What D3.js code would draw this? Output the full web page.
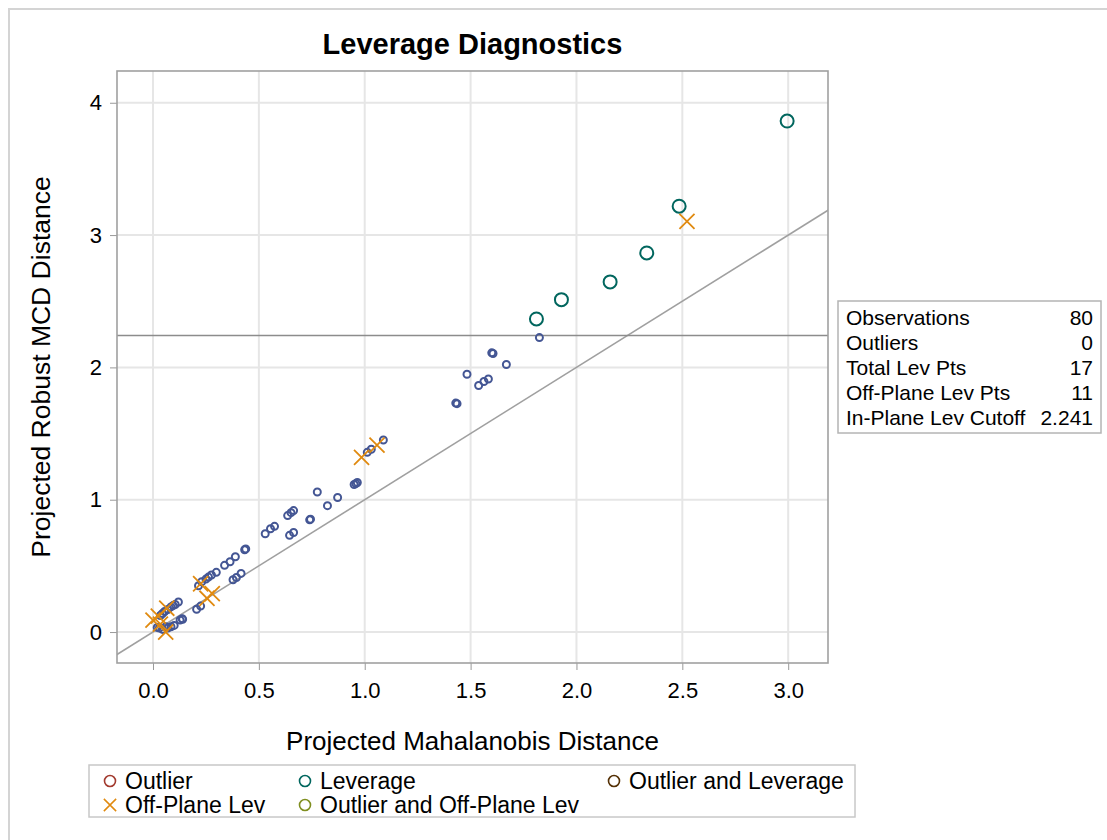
<!DOCTYPE html>
<html>
<head>
<meta charset="utf-8">
<script src="https://cdn.jsdelivr.net/npm/d3@7"></script>
<style>
  html, body { margin: 0; padding: 0; background: #fff; }
  svg text { font-family: "Liberation Sans", Arial, sans-serif; fill: #000; }
</style>
</head>
<body>
<svg id="chart" width="1107" height="840"></svg>
<script>
// Leverage Diagnostics

// Observations normales (cercles bleus)
const normalX = [1.825, 1.606, 1.600, 1.669, 1.483, 1.584, 1.563, 1.538, 1.430, 1.436,
  1.088, 1.031, 1.012, 0.950, 0.958, 0.965, 0.776, 0.872, 0.824, 0.740,
  0.744, 0.664, 0.652, 0.636, 0.574, 0.555, 0.530, 0.664, 0.645, 0.433,
  0.438, 0.389, 0.364, 0.338, 0.299, 0.276, 0.262, 0.250, 0.230, 0.215,
  0.416, 0.394, 0.378, 0.225, 0.206, 0.140, 0.138, 0.128, 0.120, 0.105,
  0.095, 0.085, 0.070, 0.055, 0.045, 0.035, 0.030, 0.045, 0.060, 0.100,
  0.085, 0.020, 0.070];
const normalY = [2.225, 2.105, 2.110, 2.022, 1.948, 1.912, 1.893, 1.863, 1.730, 1.726,
  1.451, 1.381, 1.358, 1.115, 1.122, 1.130, 1.058, 1.017, 0.955, 0.848,
  0.853, 0.918, 0.902, 0.880, 0.799, 0.781, 0.743, 0.752, 0.731, 0.622,
  0.628, 0.569, 0.531, 0.504, 0.451, 0.431, 0.415, 0.400, 0.380, 0.350,
  0.443, 0.412, 0.395, 0.196, 0.172, 0.096, 0.100, 0.091, 0.227, 0.208,
  0.200, 0.190, 0.170, 0.155, 0.140, 0.125, 0.030, 0.020, 0.040, 0.050,
  0.040, 0.035, 0.030];

// Points de levier (cercles verts)
const leverageX = [2.995, 2.485, 2.332, 2.159, 1.929, 1.811];
const leverageY = [3.862, 3.218, 2.865, 2.646, 2.512, 2.366];

// Levier hors plan (croix orange)
const offPlaneX = [2.522, 1.058, 0.985, 0.225, 0.280, 0.255, 0.065, 0.000, 0.025, 0.035, 0.060];
const offPlaneY = [3.104, 1.413, 1.320, 0.365, 0.290, 0.255, 0.180, 0.090, 0.120, 0.060, 0.000];

const xTicks = [0, 0.5, 1, 1.5, 2, 2.5, 3];
const yTicks = [0, 1, 2, 3, 4];
const cutoff = 2.241;

const statLabels = ['Observations', 'Outliers', 'Total Lev Pts', 'Off-Plane Lev Pts', 'In-Plane Lev Cutoff'];
const statValues = ['80', '0', '17', '11', '2.241'];

const legendLabels = ['Outlier', 'Leverage', 'Outlier and Leverage', 'Off-Plane Lev', 'Outlier and Off-Plane Lev'];
const legendColors = ['#A23A2E', '#01665E', '#543005', '#E08A10', '#7F8E1F'];
const legendShapes = ['circle', 'circle', 'circle', 'x', 'circle'];

const colors = { normal: '#445694', leverage: '#01665E', offPlane: '#E08A10' };

const svg = d3.select('#chart');
const plot = { left: 117, right: 828, top: 71, bottom: 663 };

const x = d3.scaleLinear().domain([-0.17, 3.188]).range([plot.left, plot.right]);
const y = d3.scaleLinear().domain([-0.234, 4.24]).range([plot.bottom, plot.top]);

// Cadre extérieur
svg.append('rect')
  .attr('x', 9).attr('y', 9)
  .attr('width', 1120).attr('height', 860)
  .attr('fill', 'none').attr('stroke', '#d4d4d4').attr('stroke-width', 2);

// Titre
svg.append('text')
  .attr('x', (plot.left + plot.right) / 2).attr('y', 54)
  .attr('text-anchor', 'middle')
  .attr('font-size', '29px').attr('font-weight', 'bold')
  .text('Leverage Diagnostics');

svg.append('defs').append('clipPath').attr('id', 'plot-clip')
  .append('rect')
  .attr('x', plot.left).attr('y', plot.top)
  .attr('width', plot.right - plot.left).attr('height', plot.bottom - plot.top);

// Grille
const grid = svg.append('g');
grid.selectAll('.vx').data(xTicks).enter().append('line')
  .attr('x1', d => x(d)).attr('x2', d => x(d))
  .attr('y1', plot.top).attr('y2', plot.bottom)
  .attr('stroke', '#e6e6e6').attr('stroke-width', 2);
grid.selectAll('.hy').data(yTicks).enter().append('line')
  .attr('x1', plot.left).attr('x2', plot.right)
  .attr('y1', d => y(d)).attr('y2', d => y(d))
  .attr('stroke', '#e6e6e6').attr('stroke-width', 2);

// Axes
const xAxis = svg.append('g')
  .attr('transform', `translate(0,${plot.bottom})`)
  .call(d3.axisBottom(x).tickValues(xTicks).tickFormat(d3.format('.1f')).tickSize(7).tickPadding(12));
const yAxis = svg.append('g')
  .attr('transform', `translate(${plot.left},0)`)
  .call(d3.axisLeft(y).tickValues(yTicks).tickFormat(d3.format('d')).tickSize(7).tickPadding(8));

[xAxis, yAxis].forEach(a => {
  a.select('.domain').remove();
  a.selectAll('line').attr('stroke', '#999');
  a.selectAll('text').attr('font-size', '22px').attr('fill', '#000')
    .attr('font-family', '"Liberation Sans", Arial, sans-serif');
});

// Lignes de référence
const ref = svg.append('g').attr('clip-path', 'url(#plot-clip)');
ref.append('line')
  .attr('x1', x(-0.5)).attr('y1', y(-0.5))
  .attr('x2', x(3.5)).attr('y2', y(3.5))
  .attr('stroke', '#a0a0a0').attr('stroke-width', 1.6);
ref.append('line')
  .attr('x1', plot.left).attr('x2', plot.right)
  .attr('y1', y(cutoff)).attr('y2', y(cutoff))
  .attr('stroke', '#8c8c8c').attr('stroke-width', 1.6);

// Points
const pts = svg.append('g').attr('clip-path', 'url(#plot-clip)');
pts.selectAll('.normal').data(normalX).enter().append('circle')
  .attr('cx', d => x(d)).attr('cy', (d, i) => y(normalY[i]))
  .attr('r', 3.5)
  .attr('fill', 'none').attr('stroke', colors.normal).attr('stroke-width', 2);

pts.selectAll('.lev').data(leverageX).enter().append('circle')
  .attr('cx', d => x(d)).attr('cy', (d, i) => y(leverageY[i]))
  .attr('r', 6.5)
  .attr('fill', 'none').attr('stroke', colors.leverage).attr('stroke-width', 2);

const cross = d3.symbol().type(d3.symbolX).size(150);
pts.selectAll('.off').data(offPlaneX).enter().append('path')
  .attr('transform', (d, i) => `translate(${x(d)},${y(offPlaneY[i])})`)
  .attr('d', cross)
  .attr('fill', 'none').attr('stroke', colors.offPlane).attr('stroke-width', 1.8);

// Cadre du graphique
svg.append('rect')
  .attr('x', plot.left).attr('y', plot.top)
  .attr('width', plot.right - plot.left).attr('height', plot.bottom - plot.top)
  .attr('fill', 'none').attr('stroke', '#a0a0a0').attr('stroke-width', 1.6);

// Titres d'axes
svg.append('text')
  .attr('x', (plot.left + plot.right) / 2).attr('y', 750)
  .attr('text-anchor', 'middle').attr('font-size', '26px')
  .text('Projected Mahalanobis Distance');
svg.append('text')
  .attr('transform', `translate(50,${(plot.top + plot.bottom) / 2}) rotate(-90)`)
  .attr('text-anchor', 'middle').attr('font-size', '26.5px')
  .text('Projected Robust MCD Distance');

// Tableau de statistiques
const table = svg.append('g').attr('transform', 'translate(838,301)');
table.append('rect')
  .attr('width', 263).attr('height', 132)
  .attr('fill', '#fff').attr('stroke', '#b4b4b4').attr('stroke-width', 1.5);
statLabels.forEach((lab, i) => {
  table.append('text').attr('x', 8).attr('y', 24 + i * 25)
    .attr('font-size', '21px').text(lab);
  table.append('text').attr('x', 255).attr('y', 24 + i * 25)
    .attr('text-anchor', 'end').attr('font-size', '21px').text(statValues[i]);
});

// Légende
const legend = svg.append('g').attr('transform', 'translate(89,765)');
legend.append('rect')
  .attr('width', 766).attr('height', 52)
  .attr('fill', '#fff').attr('stroke', '#c8c8c8').attr('stroke-width', 1.5);
const legendPos = [[21, 16], [216, 16], [525, 16], [21, 40], [216, 40]];
legendLabels.forEach((lab, i) => {
  const [lx, ly] = legendPos[i];
  if (legendShapes[i] === 'x') {
    legend.append('path')
      .attr('transform', `translate(${lx},${ly})`)
      .attr('d', d3.symbol().type(d3.symbolX).size(100))
      .attr('fill', 'none').attr('stroke', legendColors[i]).attr('stroke-width', 1.5);
  } else {
    legend.append('circle').attr('cx', lx).attr('cy', ly).attr('r', 5.5)
      .attr('fill', 'none').attr('stroke', legendColors[i]).attr('stroke-width', 1.6);
  }
  legend.append('text').attr('x', lx + 15).attr('y', ly + 8)
    .attr('font-size', '23px').text(lab);
});
</script>
</body>
</html>
